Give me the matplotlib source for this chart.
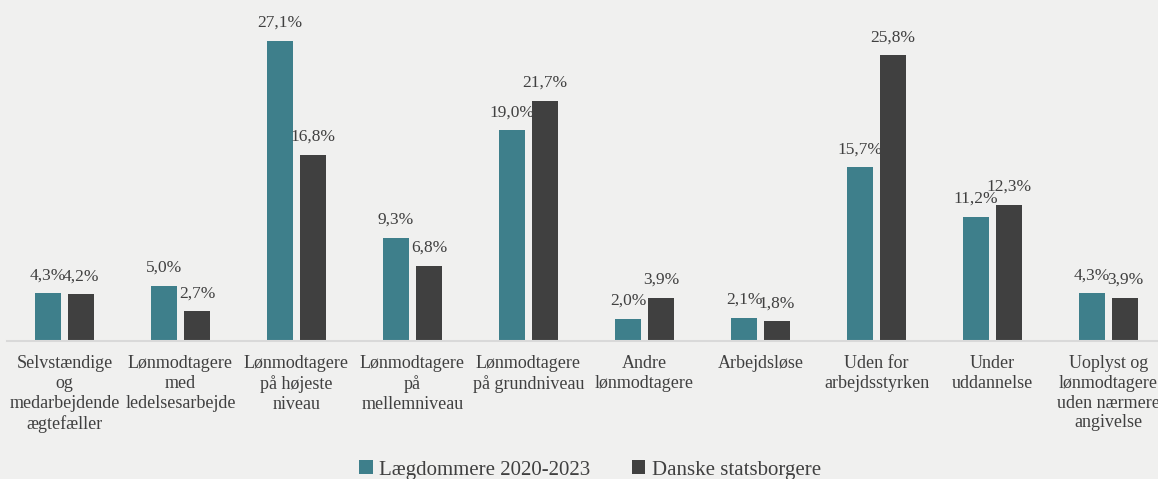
import numpy as np
import matplotlib.pyplot as plt

plt.rcParams['font.family'] = ['Liberation Serif', 'DejaVu Serif']

categories = ["Selvstændige\nog\nmedarbejdende\nægtefæller",
              "Lønmodtagere\nmed\nledelsesarbejde",
              "Lønmodtagere\npå højeste\nniveau",
              "Lønmodtagere\npå\nmellemniveau",
              "Lønmodtagere\npå grundniveau",
              "Andre\nlønmodtagere",
              "Arbejdsløse",
              "Uden for\narbejdsstyrken",
              "Under\nuddannelse",
              "Uoplyst og\nlønmodtagere\nuden nærmere\nangivelse"]
laegdommere = [4.3, 5.0, 27.1, 9.3, 19.0, 2.0, 2.1, 15.7, 11.2, 4.3]
danske = [4.2, 2.7, 16.8, 6.8, 21.7, 3.9, 1.8, 25.8, 12.3, 3.9]
series_names = ["Lægdommere 2020-2023", "Danske statsborgere"]

bg = '#F0F0EF'
teal = '#3E7F8B'
dark = '#404040'
txt = '#404040'

fig = plt.figure(figsize=(11.58, 4.79), dpi=100, facecolor=bg)
ax = fig.add_axes([6.5/1158, 1-341/479, 1160/1158, 332.4/479])
ax.set_facecolor(bg)

x = np.arange(len(categories))
off = 0.142
w = 0.224
b1 = ax.bar(x - off, laegdommere, w, color=teal, label=series_names[0])
b2 = ax.bar(x + off, danske, w, color=dark, label=series_names[1])

for bars, vals in ((b1, laegdommere), (b2, danske)):
    for rect, v in zip(bars, vals):
        ax.annotate(f"{v:.1f}%".replace('.', ','),
                    (rect.get_x() + rect.get_width()/2, v),
                    xytext=(0, 10), textcoords='offset points',
                    ha='center', va='baseline', fontsize=12.5, color=txt)

ax.set_xlim(-0.5, len(categories) - 0.5)
ax.set_ylim(0, 30)
ax.set_yticks([])
ax.set_xticks(x)
ax.set_xticklabels(categories, fontsize=13, color=txt, linespacing=1.22)
ax.tick_params(axis='x', length=0, pad=10)
for s in ['top', 'right', 'left']:
    ax.spines[s].set_visible(False)
ax.spines['bottom'].set_color('#D9D9D9')
ax.spines['bottom'].set_linewidth(1.5)

fig.legend(loc='center', bbox_to_anchor=(590/1158, 1-470/479), ncol=2,
           frameon=False, fontsize=15, handlelength=0.65, handleheight=0.65,
           handletextpad=0.3, columnspacing=2.0, labelcolor=txt,
           borderpad=0.1)

fig.savefig('out.png', dpi=100, facecolor=bg)
